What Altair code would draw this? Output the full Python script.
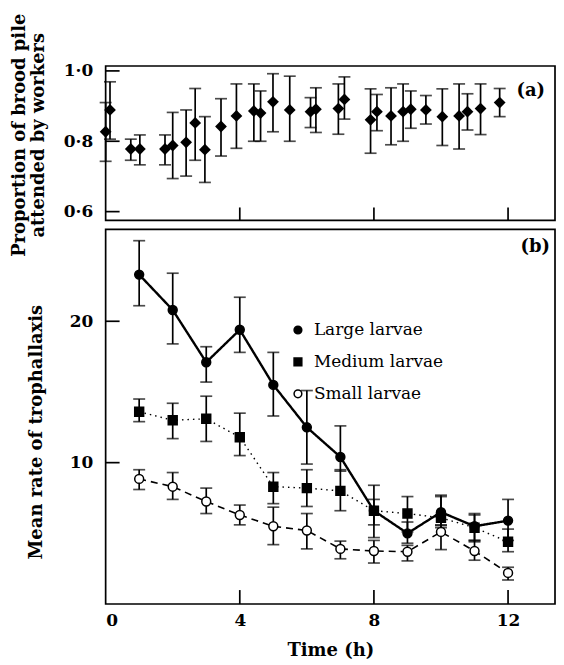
import altair as alt
import pandas as pd

# ---------------- Panel (a): proportion of brood pile attended ----------------
a_time = [0.0, 0.13, 0.75, 1.02, 1.77, 2.0, 2.4, 2.67, 2.96, 3.44, 3.9, 4.42, 4.62,
          4.99, 5.49, 6.11, 6.27, 6.94, 7.12, 7.9, 8.09, 8.51, 8.87, 9.1, 9.55,
          10.04, 10.54, 10.79, 11.18, 11.75]
a_mean = [0.827, 0.889, 0.778, 0.778, 0.778, 0.788, 0.797, 0.852, 0.776, 0.842,
          0.872, 0.886, 0.880, 0.912, 0.889, 0.884, 0.891, 0.893, 0.919, 0.861,
          0.884, 0.872, 0.884, 0.891, 0.889, 0.870, 0.872, 0.884, 0.893, 0.910]
a_lo = [0.743, 0.806, 0.746, 0.733, 0.733, 0.694, 0.701, 0.746, 0.683, 0.758,
        0.780, 0.800, 0.800, 0.827, 0.800, 0.839, 0.825, 0.820, 0.863, 0.766,
        0.830, 0.790, 0.800, 0.837, 0.849, 0.788, 0.778, 0.832, 0.819, 0.870]
a_hi = [0.910, 0.969, 0.806, 0.818, 0.818, 0.882, 0.889, 0.950, 0.870, 0.921,
        0.963, 0.963, 0.943, 0.992, 0.985, 0.924, 0.952, 0.963, 0.983, 0.949,
        0.933, 0.952, 0.963, 0.943, 0.930, 0.949, 0.963, 0.935, 0.963, 0.950]

# ---------------- Panel (b): mean rate of trophallaxis ----------------
hours = [1, 2, 3, 4, 5, 6, 7, 8, 9, 10, 11, 12]
large_mean = [23.3, 20.8, 17.1, 19.4, 15.5, 12.5, 10.4, 6.6, 5.0, 6.5, 5.5, 5.9]
large_lo = [21.1, 18.4, 15.7, 17.8, 13.3, 9.9, 9.4, 4.7, 4.3, 5.6, 4.5, 4.5]
large_hi = [25.7, 23.4, 18.2, 21.7, 17.8, 15.1, 12.6, 8.4, 5.8, 7.6, 6.4, 7.4]
medium_mean = [13.6, 13.0, 13.1, 11.8, 8.3, 8.2, 8.0, 6.6, 6.4, 6.1, 5.4, 4.4]
medium_lo = [12.9, 11.7, 11.5, 10.5, 7.1, 6.9, 6.6, 5.6, 5.1, 5.4, 4.4, 3.7]
medium_hi = [14.5, 14.2, 14.7, 13.5, 9.3, 9.5, 9.5, 7.4, 7.6, 7.7, 6.3, 5.3]
small_mean = [8.85, 8.3, 7.25, 6.3, 5.5, 5.2, 3.9, 3.75, 3.7, 5.1, 3.75, 2.2]
small_lo = [8.1, 7.4, 6.4, 5.6, 4.2, 3.9, 3.2, 2.9, 3.05, 3.85, 3.1, 1.7]
small_hi = [9.5, 9.3, 8.2, 7.0, 6.85, 6.4, 4.45, 4.5, 4.15, 5.55, 4.5, 2.6]

series_names = ["Large larvae", "Medium larvae", "Small larvae"]
series_shapes = ["circle", "square", "circle"]
series_fills = ["black", "black", "white"]

x_tick_values = [0, 4, 8, 12]
a_y_ticks = [0.6, 0.8, 1.0]
b_y_ticks = [10, 20]
inner_x_ticks = [4, 8, 12]

# ---------------- data tables ----------------
df_a = pd.DataFrame({"time": a_time, "mean": a_mean, "lo": a_lo, "hi": a_hi})
rows = []
for name, m, lo, hi in zip(series_names,
                           [large_mean, medium_mean, small_mean],
                           [large_lo, medium_lo, small_lo],
                           [large_hi, medium_hi, small_hi]):
    for h, mv, l, u in zip(hours, m, lo, hi):
        rows.append({"series": name, "time": h, "mean": mv, "lo": l, "hi": u})
df_b = pd.DataFrame(rows)

FONT = "DejaVu Serif"
W = 451
HA = 155
HB = 376
XDOM = [0, 13.4]
LW = 1.7

xscale = alt.Scale(domain=XDOM, nice=False, zero=False)

# ---------------- Panel (a) ----------------
ya_scale = alt.Scale(domain=[0.575, 1.014], nice=False, zero=False)
ya_axis = alt.Axis(values=a_y_ticks,
                   labelExpr="replace(format(datum.value, '.1f'), '.', '·')",
                   title=["Proportion of brood pile", "attended by workers"],
                   tickSize=0, domain=False, grid=False,
                   labelFont=FONT, labelFontSize=17, labelFontWeight="bold",
                   labelColor="black", labelPadding=13,
                   titleFont=FONT, titleFontSize=18, titleFontWeight="bold",
                   titleColor="black", titleX=-86, titleY=69,
                   titleAlign="center", titleBaseline="middle", titleLineHeight=19)

base_a = alt.Chart(df_a)
xa = alt.X("time:Q", scale=xscale, axis=None)

a_bars = base_a.mark_rule(color="black", strokeWidth=LW).encode(
    x=xa, y=alt.Y("lo:Q", scale=ya_scale, axis=ya_axis), y2="hi:Q")
a_caps = base_a.transform_fold(["lo", "hi"], as_=["k", "v"]).mark_tick(
    orient="horizontal", size=12, thickness=LW, color="black").encode(
    x=xa, y=alt.Y("v:Q", scale=ya_scale, axis=ya_axis))
a_pts = base_a.mark_point(shape="diamond", filled=True, color="black", size=140, opacity=1).encode(
    x=xa, y=alt.Y("mean:Q", scale=ya_scale, axis=ya_axis))

a_xt = alt.Chart(pd.DataFrame({"t": inner_x_ticks})).mark_rule(color="black", strokeWidth=LW).encode(
    x=alt.X("t:Q", scale=xscale, axis=None), y=alt.value(HA), y2=alt.value(HA - 13))
a_yt = alt.Chart(pd.DataFrame({"v": a_y_ticks})).mark_rule(color="black", strokeWidth=LW).encode(
    y=alt.Y("v:Q", scale=ya_scale, axis=ya_axis), x=alt.value(0), x2=alt.value(14))
a_lab = alt.Chart(pd.DataFrame({"t": ["(a)"]})).mark_text(
    font=FONT, fontSize=18, fontWeight="bold", align="right", baseline="middle", color="black").encode(
    text="t:N", x=alt.value(W - 10), y=alt.value(25))

panel_a = alt.layer(a_bars, a_caps, a_pts, a_xt, a_yt, a_lab).properties(width=W, height=HA)

# ---------------- Panel (b) ----------------
yb_scale = alt.Scale(domain=[0, 26.5], nice=False, zero=False)
yb_axis = alt.Axis(values=b_y_ticks, title="Mean rate of trophallaxis",
                   tickSize=0, domain=False, grid=False,
                   labelFont=FONT, labelFontSize=17, labelFontWeight="bold",
                   labelColor="black", labelPadding=13,
                   titleFont=FONT, titleFontSize=18, titleFontWeight="bold",
                   titleColor="black", titleX=-69, titleY=203,
                   titleAlign="center", titleBaseline="middle")
xb_axis = alt.Axis(values=x_tick_values, format="d", title="Time (h)",
                   tickSize=0, domain=False, grid=False,
                   labelFont=FONT, labelFontSize=17, labelFontWeight="bold",
                   labelColor="black", labelPadding=9,
                   titleFont=FONT, titleFontSize=18, titleFontWeight="bold",
                   titleColor="black", titlePadding=13)
xb = alt.X("time:Q", scale=xscale, axis=xb_axis)

base_b = alt.Chart(df_b)
b_bars = base_b.mark_rule(color="black", strokeWidth=LW).encode(
    x=xb, y=alt.Y("lo:Q", scale=yb_scale, axis=yb_axis), y2="hi:Q")
b_caps = base_b.transform_fold(["lo", "hi"], as_=["k", "v"]).mark_tick(
    orient="horizontal", size=12, thickness=LW, color="black").encode(
    x=xb, y=alt.Y("v:Q", scale=yb_scale, axis=yb_axis))

dash_styles = {"Large larvae": ([1, 0], 2.4), "Medium larvae": ([1.5, 4], 1.4), "Small larvae": ([7, 5], 1.6)}
b_lines = []
for name in series_names:
    dash, w = dash_styles[name]
    b_lines.append(base_b.transform_filter(alt.datum.series == name).mark_line(
        color="black", strokeWidth=w, strokeDash=dash).encode(
        x=xb, y=alt.Y("mean:Q", scale=yb_scale, axis=yb_axis)))

b_pts = base_b.mark_point(size=80, stroke="black", strokeWidth=1.5, opacity=1).encode(
    x=xb, y=alt.Y("mean:Q", scale=yb_scale, axis=yb_axis),
    shape=alt.Shape("series:N", scale=alt.Scale(domain=series_names, range=series_shapes), legend=None),
    fill=alt.Fill("series:N", scale=alt.Scale(domain=series_names, range=series_fills), legend=None))

# hand-made legend (symbols + labels), one row per series
legend_layers = []
for i, (name, shp, fc) in enumerate(zip(series_names, series_shapes, series_fills)):
    ldf = pd.DataFrame({"label": [name]})
    ry = 101 + 32 * i
    legend_layers.append(alt.Chart(ldf).mark_point(
        shape=shp, size=60, fill=fc, stroke="black", strokeWidth=1.5, opacity=1).encode(
        x=alt.value(193), y=alt.value(ry)))
    legend_layers.append(alt.Chart(ldf).mark_text(
        font=FONT, fontSize=17, align="left", baseline="middle", color="black").encode(
        text="label:N", x=alt.value(209), y=alt.value(ry)))

b_xt = alt.Chart(pd.DataFrame({"t": inner_x_ticks})).mark_rule(color="black", strokeWidth=LW).encode(
    x=alt.X("t:Q", scale=xscale, axis=xb_axis), y=alt.value(HB), y2=alt.value(HB - 14))
b_yt = alt.Chart(pd.DataFrame({"v": b_y_ticks})).mark_rule(color="black", strokeWidth=LW).encode(
    y=alt.Y("v:Q", scale=yb_scale, axis=yb_axis), x=alt.value(0), x2=alt.value(14))
b_lab = alt.Chart(pd.DataFrame({"t": ["(b)"]})).mark_text(
    font=FONT, fontSize=18, fontWeight="bold", align="right", baseline="middle", color="black").encode(
    text="t:N", x=alt.value(W - 5), y=alt.value(18))

panel_b = alt.layer(b_bars, b_caps, *b_lines, b_pts, b_xt, b_yt, b_lab, *legend_layers).properties(
    width=W, height=HB)

chart = alt.vconcat(panel_a, panel_b, spacing=9, bounds="flush").properties(
    padding={"left": 2, "top": 3, "right": 0, "bottom": 0}
).configure_view(stroke="black", strokeWidth=LW)

chart.save("out.html", embed_options={"renderer": "svg", "actions": False})
